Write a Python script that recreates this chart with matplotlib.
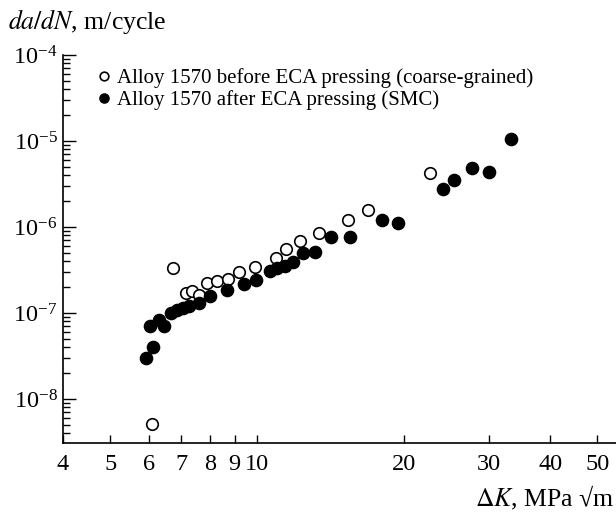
import matplotlib.pyplot as plt
from matplotlib.ticker import LogLocator, NullFormatter

plt.rcParams['font.family'] = ['Liberation Serif', 'DejaVu Serif']
plt.rcParams['mathtext.fontset'] = 'stix'

# before ECA pressing (coarse-grained), open circles
dk_before = [6.09, 6.72, 7.17, 7.36, 7.60, 7.91, 8.29, 8.71, 9.20, 9.92,
             10.93, 11.49, 12.29, 13.41, 15.36, 16.93, 22.66]
rate_before = [5.1e-9, 3.3e-7, 1.71e-7, 1.79e-7, 1.64e-7, 2.23e-7, 2.36e-7, 2.47e-7, 2.98e-7, 3.45e-7,
               4.33e-7, 5.58e-7, 6.91e-7, 8.51e-7, 1.21e-6, 1.58e-6, 4.21e-6]

# after ECA pressing (SMC), filled circles
dk_after = [5.92, 6.13, 6.04, 6.29, 6.46, 6.66, 6.85, 7.05, 7.25, 7.59,
            8.02, 8.67, 9.40, 9.95, 10.66, 11.02, 11.43, 11.87, 12.45, 13.18,
            14.19, 15.52, 18.08, 19.50, 24.06, 25.42, 27.64, 29.95, 33.23]
rate_after = [3.0e-8, 4.0e-8, 7.1e-8, 8.2e-8, 7.1e-8, 1.0e-7, 1.07e-7, 1.14e-7, 1.22e-7, 1.29e-7,
              1.58e-7, 1.83e-7, 2.17e-7, 2.39e-7, 3.12e-7, 3.34e-7, 3.49e-7, 3.95e-7, 4.95e-7, 5.08e-7,
              7.65e-7, 7.59e-7, 1.21e-6, 1.10e-6, 2.77e-6, 3.52e-6, 4.89e-6, 4.40e-6, 1.05e-5]

xticks = [4, 5, 6, 7, 8, 9, 10, 20, 30, 40, 50]

fig = plt.figure(figsize=(6.16, 5.16), dpi=100)
ax = fig.add_axes([63/616, 73/516, 553/616, 388/516])

ax.plot(dk_before, rate_before, 'o', ms=8.3, mfc='white', mec='black', mew=1.2,
        label='Alloy 1570 before ECA pressing (coarse-grained)')
ax.plot(dk_after, rate_after, 'o', ms=8.8, mfc='black', mec='black',
        label='Alloy 1570 after ECA pressing (SMC)')

ax.set_xscale('log')
ax.set_yscale('log')
ax.set_xlim(4, 54.6)
ax.set_ylim(3.08e-9, 1e-4)

ax.set_xticks(xticks)
ax.set_xticklabels([str(t) for t in xticks])
ax.xaxis.set_minor_locator(plt.NullLocator())
ax.yaxis.set_major_locator(LogLocator(base=10, numticks=10))
ax.yaxis.set_minor_locator(LogLocator(base=10, subs=range(2, 10), numticks=20))
ax.yaxis.set_minor_formatter(NullFormatter())

ax.tick_params(axis='x', which='major', direction='in', length=6, width=1, labelsize=17.5, pad=8)
ax.tick_params(axis='y', which='major', direction='in', length=9, width=1, labelsize=17.5, pad=4)
ax.tick_params(axis='y', which='minor', direction='in', length=5, width=1)

for s in ['top', 'right']:
    ax.spines[s].set_visible(False)
for s in ['left', 'bottom']:
    ax.spines[s].set_linewidth(1.2)

fig.text(8/616, 1 - 22/516, r'$\mathit{da}/\mathit{dN}$, m/cycle', fontsize=18.5, va='center', ha='left')
fig.text(614/616, 1 - 498/516, r'$\Delta\mathit{K}$, MPa √m', fontsize=18.5, va='center', ha='right')

ax.legend(loc='upper left', bbox_to_anchor=(98/616, 1 - 68/516), bbox_transform=fig.transFigure,
          frameon=False, fontsize=15, markerscale=0.75, handlelength=0.6, handletextpad=0.3,
          labelspacing=0.1, borderpad=0, borderaxespad=0)

fig.savefig('out.png', dpi=100)
